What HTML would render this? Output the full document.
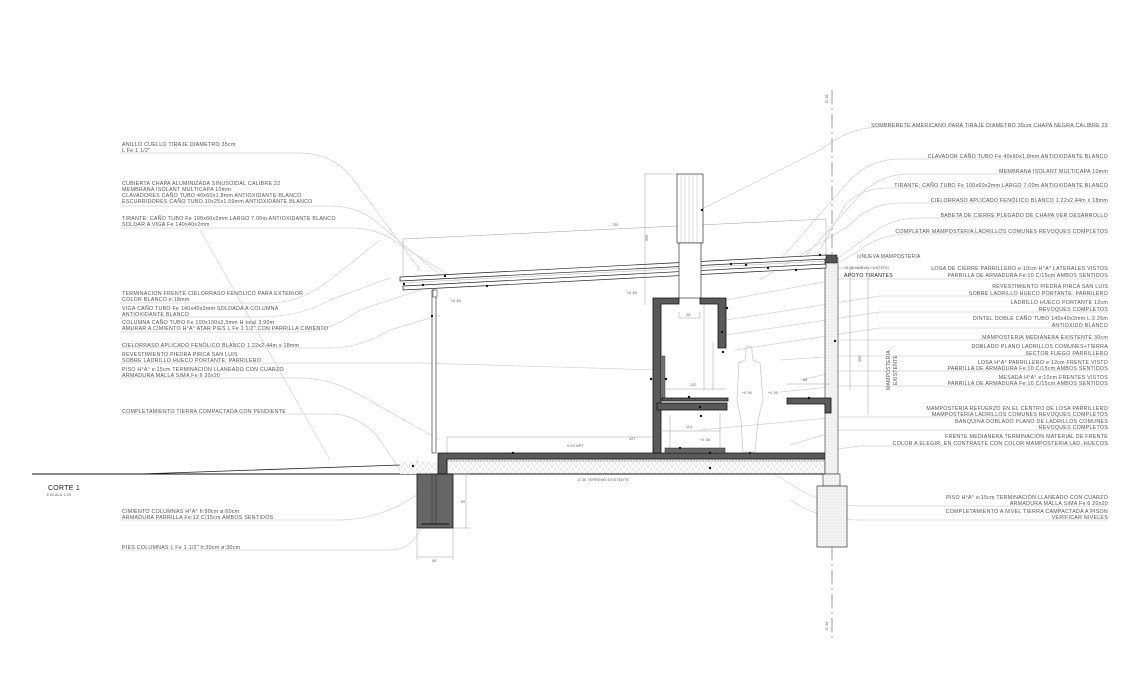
<!DOCTYPE html>
<html><head><meta charset="utf-8"><style>
html,body{margin:0;padding:0;background:#fff;}
svg{display:block;}
text{font-family:"Liberation Sans",sans-serif;font-size:5.3px;fill:#555;letter-spacing:0.25px;}
.r{text-anchor:end;}
.ld{fill:none;stroke:#d2d2d2;stroke-width:0.7;}
.ul{stroke:#dcdcdc;stroke-width:0.7;}
.k{stroke:#222;stroke-width:0.8;fill:none;}
.dim{stroke:#888;stroke-width:0.4;fill:none;}
.dk{fill:#5a5a5a;stroke:#111;stroke-width:0.8;}
</style></head><body>
<svg width="1140" height="700" viewBox="0 0 1140 700" xmlns="http://www.w3.org/2000/svg">
<defs>
<pattern id="dots" width="3" height="3" patternUnits="userSpaceOnUse"><rect width="3" height="3" fill="#f4f4f4"/><circle cx="1" cy="1" r="0.35" fill="#aaa"/></pattern>
<pattern id="hatch" width="6" height="6" patternUnits="userSpaceOnUse"><rect width="6" height="6" fill="#fafafa"/><path d="M0 6 L3 0 L6 6" stroke="#ccc" stroke-width="0.4" fill="none"/></pattern>
</defs>

<g class="ld">
<path d="M120 153 H300 Q330 153 350 175 L420 270"/>
<path d="M120 206 H330 Q360 206 380 225 L440 275"/>
<path d="M120 228 H350 Q380 228 400 245 L470 288"/>
<path d="M120 303 H270 Q300 303 330 280 L380 240"/>
<path d="M120 317 H260 Q300 317 330 300 L390 278"/>
<path d="M120 332 H300 Q330 332 360 310 L420 290"/>
<path d="M120 348 H330 Q360 348 390 330 L440 315"/>
<path d="M120 363 H420 L660 370"/>
<path d="M120 378 H300 Q330 378 360 395 L440 440"/>
<path d="M120 414 H330 Q360 414 380 440 L400 470"/>
<path d="M120 520 H340 Q370 520 400 505 L417 495"/>
<path d="M120 550 H390 Q410 550 420 530"/>
<path d="M200 230 L330 460"/>
</g>
<g class="ld">
<path d="M1108 127 H880 Q850 127 820 150 L700 210"/>
<path d="M1108 159 H900 Q870 159 850 180 L780 260"/>
<path d="M1108 174 H910 Q880 174 860 195 L800 262"/>
<path d="M1108 188 H890 Q860 188 845 205 L810 268"/>
<path d="M1108 203 H900 Q870 203 850 225 L760 280"/>
<path d="M1108 218 H920 Q890 218 870 235 L838 258"/>
<path d="M1108 234 H910 Q880 234 860 250 L840 262"/>
<path d="M1108 279 H840 L726 300"/>
<path d="M1108 296 H880 L726 320"/>
<path d="M1108 312 H880 L726 335"/>
<path d="M1108 328 H880 L735 350"/>
<path d="M1108 340 H840"/>
<path d="M1108 356 H840 L780 360"/>
<path d="M1108 371 H840 L800 380"/>
<path d="M1108 386 H840 L780 392"/>
<path d="M1108 417 H840 L700 430"/>
<path d="M1108 430 H840 L790 445"/>
<path d="M1108 446 H860 L830 450"/>
<path d="M1108 506 H860 Q830 506 800 490 L760 465"/>
<path d="M1108 520 H860 Q820 520 790 500"/>
</g>

<path d="M32 474 H140 L400 465 L418 462" class="k" stroke-width="0.6"/>
<line x1="32" y1="474" x2="418" y2="474" stroke="#111" stroke-width="1"/>
<rect x="400" y="462" width="38" height="12" fill="url(#hatch)"/>

<line x1="832" y1="90" x2="832" y2="640" stroke="#888" stroke-width="0.8" stroke-dasharray="14 4 2 4"/>
<text x="828" y="103" style="font-size:4px" transform="rotate(-90 828 103)">C.M.</text>
<text x="828" y="630" style="font-size:4px" transform="rotate(-90 828 630)">C.M.</text>

<rect x="447" y="459" width="378" height="15" fill="url(#hatch)" stroke="#222" stroke-width="0.6"/>
<path class="dk" d="M438 453 H825 V459 H447 V474 H438 Z"/>
<line x1="447" y1="461" x2="825" y2="461" stroke="#555" stroke-width="0.6" stroke-dasharray="2 1"/>
<line x1="438" y1="474" x2="825" y2="474" stroke="#111" stroke-width="1"/>

<rect x="417" y="474" width="36" height="54" fill="#666" stroke="#111" stroke-width="0.8"/>
<line x1="432" y1="474" x2="432" y2="524" stroke="#222" stroke-width="0.5"/>
<line x1="436" y1="474" x2="436" y2="524" stroke="#222" stroke-width="0.5"/>
<line x1="421" y1="524" x2="449" y2="524" stroke="#111" stroke-width="1"/>
<path class="dim" d="M417 528 V560 M453 528 V560 M417 557 H453 M453 474 H470 M453 528 H470 M466 474 V528"/>
<text x="432" y="562" style="font-size:3.5px">90</text>
<text x="461" y="503" style="font-size:3.5px">90</text>

<rect x="432" y="290" width="4" height="163" fill="#fff" stroke="#222" stroke-width="0.6"/>
<circle cx="432" cy="316" r="1.2" fill="#111"/>
<rect x="433" y="290" width="4" height="7" fill="#fff" stroke="#222" stroke-width="0.5"/>

<rect x="825" y="258" width="13" height="216" fill="url(#dots)" stroke="#333" stroke-width="0.6"/>
<rect x="823" y="474" width="17" height="12" fill="url(#dots)" stroke="#333" stroke-width="0.6"/>
<rect x="817" y="486" width="30" height="61" fill="url(#dots)" stroke="#333" stroke-width="0.7"/>
<rect x="825" y="255" width="12" height="8" fill="#555" stroke="#111" stroke-width="0.6"/>
<circle cx="835" cy="341" r="1.2" fill="#111"/>

<path d="M400 277 L826 255 L826 259 L400 281 Z" fill="#fff" stroke="#222" stroke-width="0.7"/>
<path d="M403 286 L826 264 L826 268 L403 290 Z" fill="#fff" stroke="#222" stroke-width="0.7"/>
<line x1="400" y1="283" x2="826" y2="261" stroke="#999" stroke-width="0.4"/>
<g fill="#111">
<circle cx="445" cy="276" r="1.2"/><circle cx="487" cy="286" r="1.2"/><circle cx="404" cy="284" r="1.2"/>
<circle cx="423" cy="285" r="1.2"/><circle cx="731" cy="264" r="1.2"/><circle cx="746" cy="265" r="1.2"/>
<circle cx="768" cy="268" r="1.2"/><circle cx="796" cy="270" r="1.2"/><circle cx="820" cy="255" r="1.2"/>
</g>
<path class="dim" d="M403 239 L826 219 M403 239 V275 M826 219 V255"/>
<text x="612" y="226" style="font-size:3.5px">700</text>
<path class="dim" d="M645 174 V305 M645 174 H677"/>
<text x="645" y="238" style="font-size:3.5px" transform="rotate(-90 648 238)">305</text>

<rect x="677" y="174" width="26" height="69" fill="#fff" stroke="#333" stroke-width="0.7"/>
<g stroke="#aaa" stroke-width="0.4">
<line x1="681" y1="174" x2="681" y2="243"/><line x1="685" y1="174" x2="685" y2="243"/><line x1="689" y1="174" x2="689" y2="243"/><line x1="693" y1="174" x2="693" y2="243"/><line x1="697" y1="174" x2="697" y2="243"/>
</g>
<rect x="679" y="243" width="22" height="55" fill="#fff" stroke="#333" stroke-width="0.7"/>
<circle cx="702" cy="210" r="1.2" fill="#111"/>

<path class="dk" d="M653 298 H679 V304 H661 V453 H653 Z"/>
<path class="dk" d="M700 298 H726 V348 H718 V304 H700 Z"/>
<rect x="662" y="356" width="3" height="44" fill="#777" stroke="#222" stroke-width="0.4"/>
<path class="dk" d="M662 398 H728 V401 H662 Z"/>
<rect x="657" y="403" width="70" height="7" class="dk"/>
<rect x="665" y="448" width="60" height="5" fill="#666" stroke="#222" stroke-width="0.5"/>
<path class="dk" d="M787 398 H831 V413 H825 V404 H787 Z"/>
<g fill="#111"><circle cx="651" cy="379" r="1.2"/><circle cx="666" cy="379" r="1.2"/><circle cx="689" cy="397" r="1.2"/><circle cx="700" cy="407" r="1.2"/><circle cx="701" cy="416" r="1.2"/><circle cx="722" cy="332" r="1.2"/><circle cx="727" cy="308" r="1.2"/><circle cx="723" cy="352" r="1.2"/><circle cx="809" cy="398" r="1.2"/><circle cx="680" cy="448" r="1.2"/><circle cx="750" cy="453" r="1.2"/><circle cx="710" cy="453" r="1.2"/><circle cx="513" cy="453" r="1.2"/><circle cx="710" cy="468" r="1.2"/><circle cx="413" cy="466" r="1.2"/></g>
<path class="dim" d="M679 312 V318 H700 V312 M704 304 V390 M713 342 V390 M662 389 H726 M660 431 H720 M670 415 V448 M720 413 V450 M447 437 H653 M447 437 V453 M787 384 H830 M838 398 V413"/>
<text x="686" y="316" style="font-size:3.5px">35</text>
<text x="690" y="386" style="font-size:3.5px">102</text>
<text x="686" y="428" style="font-size:3.5px">114</text>
<text x="629" y="440" style="font-size:3.5px">427</text>
<text x="803" y="381" style="font-size:3.5px">68</text>
<text x="567" y="447" style="font-size:3.5px">0.00 NPT</text>
<text x="577" y="481" style="font-size:3.5px">-0.35 TERRENO EXISTENTE</text>
<text x="627" y="294" style="font-size:3.5px">+2.55</text>
<text x="451" y="302" style="font-size:3.5px">+2.50</text>
<text x="742" y="394" style="font-size:3.5px">+0.90</text>
<text x="768" y="394" style="font-size:3.5px">+0.90</text>
<text x="700" y="441" style="font-size:3.5px">+0.06</text>

<path d="M746 351 Q745 348 749 346 Q753 348 752 352 L753 360 L760 363 L763 400 L758 420 L755 452 H743 L741 420 L737 400 L739 363 L745 360 Z" fill="none" stroke="#bbb" stroke-width="0.6"/>

<path class="dim" d="M850 268 V390 M868 268 V415 M838 268 H870"/>
<text x="857" y="258" style="font-size:5px">⊡NUEVA MAMPOSTERIA</text>
<text x="844" y="269" style="font-size:3.5px">+2.35 NUEVO CANTERO</text>
<text x="844" y="277" style="font-size:5.2px;fill:#222">APOYO TIRANTES</text>
<text x="890" y="370" style="font-size:5px" transform="rotate(-90 890 370)" text-anchor="middle">MAMPOSTERIA</text>
<text x="897" y="370" style="font-size:5px" transform="rotate(-90 897 370)" text-anchor="middle">EXISTENTE</text>
<text x="861" y="362" style="font-size:3.5px" transform="rotate(-90 861 362)">305</text>

<text x="122" y="146">ANILLO CUELLO TIRAJE DIAMETRO 35cm</text>
<text x="122" y="152">L Fe 1 1/2"</text>
<text x="122" y="185">CUBIERTA CHAPA ALUMINIZADA SINUSOIDAL CALIBRE 22</text>
<text x="122" y="191">MEMBRANA ISOLANT MULTICAPA 10mm</text>
<text x="122" y="197">CLAVADORES CAÑO TUBO 40x60x1.8mm ANTIOXIDANTE BLANCO</text>
<text x="122" y="203">ESCURRIDORES CAÑO TUBO 10x25x1.59mm ANTIOXIDANTE BLANCO</text>
<text x="122" y="220">TIRANTE: CAÑO TUBO Fe 100x60x2mm LARGO 7.00m ANTIOXIDANTE BLANCO</text>
<text x="122" y="226">SOLDAR A VIGA Fe 140x40x2mm</text>
<text x="122" y="295">TERMINACION FRENTE CIELORRASO FENOLICO PARA EXTERIOR</text>
<text x="122" y="301">COLOR BLANCO e:18mm</text>
<text x="122" y="310">VIGA CAÑO TUBO Fe 140x40x2mm SOLDADA A COLUMNA</text>
<text x="122" y="316">ANTIOXIDANTE BLANCO</text>
<text x="122" y="324">COLUMNA CAÑO TUBO Fe 100x100x2,5mm H total 3.90m</text>
<text x="122" y="330">AMURAR A CIMIENTO H°A° ATAR PIES L Fe 1 1/2" CON PARRILLA CIMIENTO</text>
<text x="122" y="347">CIELORRASO APLICADO FENÓLICO BLANCO 1.22x2.44m x 18mm</text>
<text x="122" y="356">REVESTIMIENTO PIEDRA PIRCA SAN LUIS</text>
<text x="122" y="362">SOBRE LADRILLO HUECO PORTANTE: PARRILERO</text>
<text x="122" y="371">PISO H°A° e:15cm TERMINACION LLANEADO CON CUARZO</text>
<text x="122" y="377">ARMADURA MALLA SIMA Fe:6 20x20</text>
<text x="122" y="413">COMPLETAMIENTO TIERRA COMPACTADA CON PENDIENTE</text>
<text x="48" y="490" style="font-size:7px;fill:#222">CORTE 1</text>
<text x="47" y="496" style="font-size:3.5px">ESCALA 1:25</text>
<text x="122" y="513">CIMIENTO COLUMNAS H°A° h:90cm ø:60cm</text>
<text x="122" y="519">ARMADURA PARRILLA Fe:12 C/15cm AMBOS SENTIDOS</text>
<text x="122" y="549">PIES COLUMNAS L Fe 1 1/2" h:30cm ø:30cm</text>

<text class="r" x="1108" y="127">SOMBRERETE AMERICANO PARA TIRAJE  DIAMETRO 35cm CHAPA NEGRA CALIBRE 22</text>
<text class="r" x="1108" y="158">CLAVADOR CAÑO TUBO Fe 40x60x1.8mm ANTIOXIDANTE BLANCO</text>
<text class="r" x="1108" y="173">MEMBRANA ISOLANT MULTICAPA 10mm</text>
<text class="r" x="1108" y="187">TIRANTE: CAÑO TUBO Fe 100x60x2mm LARGO 7.00m ANTIOXIDANTE BLANCO</text>
<text class="r" x="1108" y="202">CIELORRASO APLICADO FENÓLICO BLANCO 1.22x2.44m x 18mm</text>
<text class="r" x="1108" y="217">BABETA DE CIERRE PLEGADO DE CHAPA VER DESARROLLO</text>
<text class="r" x="1108" y="233">COMPLETAR MAMPOSTERIA LADRILLOS COMUNES REVOQUES COMPLETOS</text>
<text class="r" x="1108" y="270">LOSA DE CIERRE PARRILLERO e:10cm H°A° LATERALES VISTOS</text>
<text class="r" x="1108" y="277">PARRILLA DE ARMADURA Fe:10 C/15cm AMBOS SENTIDOS</text>
<text class="r" x="1108" y="288">REVESTIMIENTO PIEDRA PIRCA SAN LUIS</text>
<text class="r" x="1108" y="295">SOBRE LADRILLO HUECO PORTANTE: PARRILERO</text>
<text class="r" x="1108" y="304">LADRILLO HUECO PORTANTE 12cm</text>
<text class="r" x="1108" y="311">REVOQUES COMPLETOS</text>
<text class="r" x="1108" y="320">DINTEL DOBLE CAÑO TUBO 140x40x2mm L:2.25m</text>
<text class="r" x="1108" y="327">ANTIOXIDO BLANCO</text>
<text class="r" x="1108" y="339">MAMPOSTERIA MEDIANERA EXISTENTE 30cm</text>
<text class="r" x="1108" y="348">DOBLADO PLANO LADRILLOS COMUNES+TIERRA</text>
<text class="r" x="1108" y="355">SECTOR FUEGO PARRILLERO</text>
<text class="r" x="1108" y="364">LOSA H°A° PARRILLERO e:12cm FRENTE VISTO</text>
<text class="r" x="1108" y="370">PARRILLA DE ARMADURA Fe:10 C/15cm AMBOS SENTIDOS</text>
<text class="r" x="1108" y="379">MESADA H°A° e:10cm FRENTES VISTOS</text>
<text class="r" x="1108" y="385">PARRILLA DE ARMADURA Fe:10 C/15cm AMBOS SENTIDOS</text>
<text class="r" x="1108" y="410">MAMPOSTERIA REFUERZO EN EL CENTRO DE LOSA PARRILLERO</text>
<text class="r" x="1108" y="416">MAMPOSTERIA LADRILLOS COMUNES REVOQUES COMPLETOS</text>
<text class="r" x="1108" y="423">BANQUINA DOBLADO PLANO DE LADRILLOS COMUNES</text>
<text class="r" x="1108" y="429">REVOQUES COMPLETOS</text>
<text class="r" x="1108" y="438">FRENTE MEDIANERA TERMINACIÓN MATERIAL DE FRENTE</text>
<text class="r" x="1108" y="445">COLOR A ELEGIR, EN CONTRASTE CON COLOR MAMPOSTERIA LAD. HUECOS</text>
<text class="r" x="1108" y="499">PISO H°A° e:15cm TERMINACIÓN LLANEADO CON CUARZO</text>
<text class="r" x="1108" y="505">ARMADURA MALLA SIMA Fe:6 20x20</text>
<text class="r" x="1108" y="513">COMPLETAMIENTO A NIVEL TIERRA CAMPACTADA A PISON</text>
<text class="r" x="1108" y="519">VERIFICAR NIVELES</text>
</svg>
</body></html>
